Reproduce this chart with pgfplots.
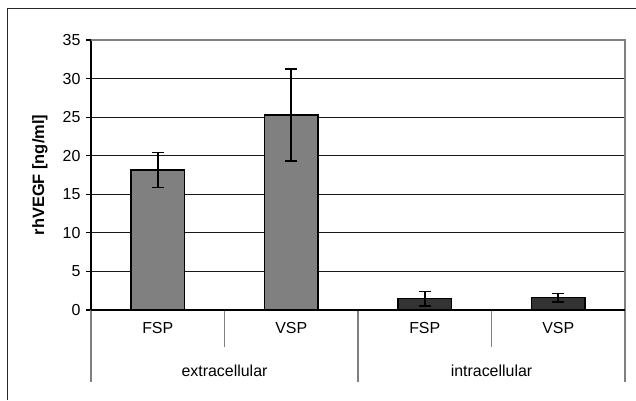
\documentclass[border=0pt]{standalone}
\usepackage{pgfplots}
\pgfplotsset{compat=1.18}
\usepackage{fontspec}
\setmainfont{Liberation Sans}

\definecolor{bargray}{RGB}{128,128,128}
\definecolor{bardark}{RGB}{51,51,51}
\definecolor{framegray}{RGB}{128,128,128}

\begin{document}
\begin{tikzpicture}[x=1bp,y=1bp]
\useasboundingbox (0,0) rectangle (636,-400);
\draw[line width=1.8bp, black!85] (7.5,-400) -- (7.5,-8.5) -- (636,-8.5);
\begin{axis}[
    at={(91bp,-40bp)}, anchor=north west,
    scale only axis, width=534bp, height=270bp,
    xmin=-0.5, xmax=3.5, ymin=0, ymax=35,
    ytick={0,5,...,35},
    xtick={0,1,2,3}, xticklabels={FSP,VSP,FSP,VSP},
    axis lines=left, axis line style={-, black, line width=1.2bp},
    tick align=outside, major tick length=5bp,
    major x tick style={draw=none},
    major y tick style={black, line width=1.2bp},
    ymajorgrids, major grid style={black!90, line width=1bp},
    font=\fontsize{16}{19}\selectfont,
    /pgf/number format/assume math mode=true,
    yticklabel style={xshift=-2bp},
    xticklabel style={yshift=-4bp},
    ylabel={\bfseries rhVEGF [ng/ml]},
    every axis y label/.style={at={(axis description cs:0,0.5)}, xshift=-51bp,
        rotate=90, anchor=center, font=\fontsize{16.5}{19}\selectfont},
    ybar, bar width=0.4, bar shift=0pt,
    clip=false,
]
\addplot[fill=bargray, draw=black, line width=1.6bp,
    error bars/.cd, y dir=both, y explicit,
    error bar style={line width=1.6bp, black},
    error mark options={rotate=90, mark size=6bp, line width=1.6bp, black}]
    coordinates {(0,18.15) +- (0,2.25) (1,25.28) +- (0,6.0)};
\addplot[fill=bardark, draw=black, line width=1.6bp,
    error bars/.cd, y dir=both, y explicit,
    error bar style={line width=1.6bp, black},
    error mark options={rotate=90, mark size=6bp, line width=1.6bp, black}]
    coordinates {(2,1.47) +- (0,0.93) (3,1.6) +- (0,0.54)};
% plot area border, top and right
\draw[framegray, line width=1.8bp] (axis cs:-0.5,35) -- (axis cs:3.5,35) -- (axis cs:3.5,0);
% category separators
\draw[framegray, line width=1.4bp]
    (axis cs:-0.5,0) -- ([yshift=-72bp]axis cs:-0.5,0)
    (axis cs:1.5,0) -- ([yshift=-72bp]axis cs:1.5,0)
    (axis cs:3.5,0) -- ([yshift=-72bp]axis cs:3.5,0)
    (axis cs:0.5,0) -- ([yshift=-37bp]axis cs:0.5,0)
    (axis cs:2.5,0) -- ([yshift=-37bp]axis cs:2.5,0);
\draw[black, line width=1.2bp] (axis cs:-0.5,0) -- (axis cs:3.5,0);
\node[anchor=center] at ([yshift=-61bp]axis cs:0.5,0) {extracellular};
\node[anchor=center] at ([yshift=-61bp]axis cs:2.5,0) {intracellular};
\end{axis}
\end{tikzpicture}
\end{document}
